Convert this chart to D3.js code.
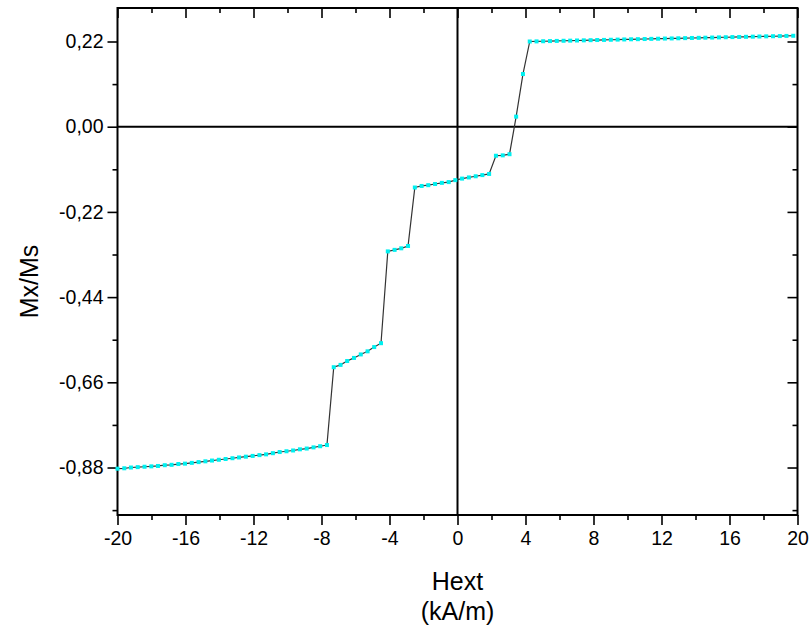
<!DOCTYPE html>
<html>
<head>
<meta charset="utf-8">
<script src="https://cdn.jsdelivr.net/npm/d3@7"></script>
<style>
  body { margin: 0; background: #fff; }
  svg { display: block; }
  text { font-family: "Liberation Sans", Arial, sans-serif; fill: #000; }
</style>
</head>
<body>
<svg id="chart" width="812" height="632"></svg>
<script>
// ---- data ----
const hext = [
  -20.00,-19.60,-19.21,-18.81,-18.41,-18.01,-17.62,-17.22,-16.82,-16.42,
  -16.03,-15.63,-15.23,-14.83,-14.44,-14.04,-13.64,-13.24,-12.85,-12.45,
  -12.05,-11.65,-11.26,-10.86,-10.46,-10.06,-9.67,-9.27,-8.87,-8.47,
  -8.08,-7.68,-7.28,-6.88,-6.49,-6.09,-5.69,-5.29,-4.90,-4.50,
  -4.10,-3.70,-3.31,-2.91,-2.51,-2.11,-1.72,-1.32,-0.92,-0.52,
  -0.13,0.27,0.67,1.07,1.46,1.86,2.26,2.66,3.06,3.45,
  3.85,4.25,4.65,5.04,5.44,5.84,6.24,6.63,7.03,7.43,
  7.83,8.22,8.62,9.02,9.42,9.81,10.21,10.61,11.01,11.40,
  11.80,12.20,12.60,12.99,13.39,13.79,14.19,14.58,14.98,15.38,
  15.78,16.17,16.57,16.97,17.37,17.76,18.16,18.56,18.96,19.35,
  19.75
];
const mxms = [
  -0.883,-0.882,-0.880,-0.879,-0.878,-0.877,-0.876,-0.874,-0.873,-0.871,
  -0.870,-0.868,-0.866,-0.864,-0.862,-0.860,-0.858,-0.856,-0.854,-0.852,
  -0.850,-0.848,-0.846,-0.843,-0.840,-0.838,-0.836,-0.833,-0.831,-0.828,
  -0.825,-0.822,-0.621,-0.615,-0.605,-0.597,-0.588,-0.580,-0.569,-0.559,
  -0.322,-0.318,-0.314,-0.308,-0.157,-0.153,-0.151,-0.148,-0.145,-0.143,
  -0.138,-0.134,-0.131,-0.128,-0.125,-0.122,-0.075,-0.074,-0.071,0.026,
  0.136,0.2200,0.2203,0.2207,0.2211,0.2215,0.2219,0.2222,0.2226,0.2230,
  0.2234,0.2238,0.2241,0.2245,0.2249,0.2253,0.2257,0.2260,0.2264,0.2268,
  0.2272,0.2276,0.2279,0.2283,0.2287,0.2291,0.2295,0.2298,0.2302,0.2306,
  0.2310,0.2314,0.2317,0.2321,0.2325,0.2329,0.2333,0.2336,0.2340,0.2344,
  0.2348
];
const xTicks = [-20,-16,-12,-8,-4,0,4,8,12,16,20];
const xMinorTicks = [-18,-14,-10,-6,-2,2,6,10,14,18];
const yTicks = [-0.88,-0.66,-0.44,-0.22,0.00,0.22];
const yMinorTicks = [-0.99,-0.77,-0.55,-0.33,-0.11,0.11];
const xTitle = ["Hext", "(kA/m)"];
const yTitle = "Mx/Ms";

// ---- layout ----
const svg = d3.select("#chart");
const L = 117.5, R = 797.5, T = 8, B = 515;
const x = d3.scaleLinear().domain([-20, 20]).range([L, R]);
const y = d3.scaleLinear().domain([-1.0026, 0.3065]).range([B, T]);

const loc = d3.formatLocale({decimal: ",", thousands: ".", grouping: [3], currency: ["", ""], minus: "-"});
const fy = loc.format(".2f");
const fx = loc.format("d");

const data = hext.map((h, i) => ({h, m: mxms[i]}));

// zero lines
svg.append("line").attr("x1", x(0)).attr("x2", x(0)).attr("y1", T).attr("y2", B)
  .attr("stroke", "#000").attr("stroke-width", 2);
svg.append("line").attr("x1", L).attr("x2", R).attr("y1", y(0)).attr("y2", y(0))
  .attr("stroke", "#000").attr("stroke-width", 2);

// axes
function styleAxis(g) {
  g.select(".domain").remove();
  g.selectAll(".tick line").attr("stroke", "#000").attr("stroke-width", 1.6);
  g.selectAll(".tick text").attr("font-size", 19.5).attr("font-family", "Liberation Sans, Arial, sans-serif");
}
// bottom
svg.append("g").attr("transform", `translate(0,${B})`)
  .call(d3.axisBottom(x).tickValues(xTicks).tickSize(10).tickPadding(6).tickFormat(fx))
  .call(styleAxis);
svg.append("g").attr("transform", `translate(0,${B})`)
  .call(d3.axisBottom(x).tickValues(xMinorTicks).tickSize(5).tickFormat(""))
  .call(styleAxis);
// top (inward)
svg.append("g").attr("transform", `translate(0,${T})`)
  .call(d3.axisBottom(x).tickValues(xTicks).tickSize(10).tickFormat(""))
  .call(styleAxis);
svg.append("g").attr("transform", `translate(0,${T})`)
  .call(d3.axisBottom(x).tickValues(xMinorTicks).tickSize(5).tickFormat(""))
  .call(styleAxis);
// left
svg.append("g").attr("transform", `translate(${L},0)`)
  .call(d3.axisLeft(y).tickValues(yTicks).tickSize(10).tickPadding(4).tickFormat(fy))
  .call(styleAxis);
svg.append("g").attr("transform", `translate(${L},0)`)
  .call(d3.axisLeft(y).tickValues(yMinorTicks).tickSize(5).tickFormat(""))
  .call(styleAxis);
// right (inward)
svg.append("g").attr("transform", `translate(${R},0)`)
  .call(d3.axisLeft(y).tickValues(yTicks).tickSize(10).tickFormat(""))
  .call(styleAxis);
svg.append("g").attr("transform", `translate(${R},0)`)
  .call(d3.axisLeft(y).tickValues(yMinorTicks).tickSize(5).tickFormat(""))
  .call(styleAxis);

// frame
svg.append("rect").attr("x", L).attr("y", T).attr("width", R - L).attr("height", B - T)
  .attr("fill", "none").attr("stroke", "#000").attr("stroke-width", 2);

// data line
svg.append("path").datum(data)
  .attr("d", d3.line().x(d => x(d.h)).y(d => y(d.m)))
  .attr("fill", "none").attr("stroke", "#333").attr("stroke-width", 1.2);

// markers
svg.append("g").selectAll("rect").data(data).join("rect")
  .attr("x", d => x(d.h) - 2).attr("y", d => y(d.m) - 2)
  .attr("width", 4).attr("height", 4)
  .attr("fill", "#00f0f0");

// titles
svg.append("text").attr("x", (L + R) / 2).attr("y", 590).attr("text-anchor", "middle")
  .attr("font-size", 25).text(xTitle[0]);
svg.append("text").attr("x", (L + R) / 2).attr("y", 620).attr("text-anchor", "middle")
  .attr("font-size", 25).text(xTitle[1]);
svg.append("text").attr("transform", `translate(38,${(T + B) / 2 + 20}) rotate(-90)`)
  .attr("text-anchor", "middle").attr("font-size", 25).text(yTitle);
</script>
</body>
</html>
